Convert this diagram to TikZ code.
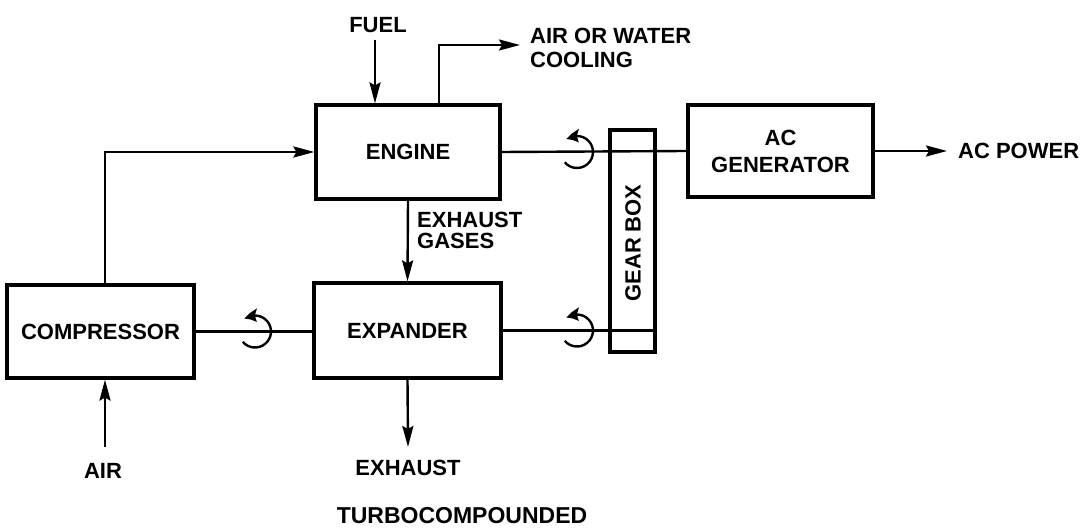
\documentclass[tikz,border=0pt]{standalone}
\usepackage{fontspec}
\setmainfont{Liberation Sans}
\usetikzlibrary{arrows.meta,bending}
\newcommand{\lblfont}{\fontsize{22}{23}\selectfont\bfseries}
\begin{document}
\begin{tikzpicture}[x=1pt,y=-1pt,
  blk/.style={draw, line width=3.2pt, inner sep=0pt, font=\lblfont, align=center},
  lbl/.style={inner sep=0pt, font=\lblfont},
  conn/.style={line width=2.4pt},
  arr/.style={line width=2.4pt, -{Stealth[length=21pt,width=11pt,inset=3pt]}},
  rot/.pic={\draw[line width=2.4pt,-{Stealth[length=13pt,width=13pt,inset=2pt,bend]}] (140:16) arc[start angle=140,end angle=-130,radius=16];}
]
\fill[white] (0,0) rectangle (1082,529);
\useasboundingbox (0,0) rectangle (1082,529);

% blocks
\node[blk, minimum width=187pt, minimum height=93pt] (comp) at (100.5,331.5) {COMPRESSOR};
\node[blk, minimum width=184pt, minimum height=94pt] (eng) at (408,152) {ENGINE};
\node[blk, minimum width=187pt, minimum height=95pt] (exp) at (407.5,330.5) {EXPANDER};
\node[blk, minimum width=185pt, minimum height=92pt, font=\fontsize{22}{27}\selectfont\bfseries] (gen) at (780.5,151) {AC\\GENERATOR};
\node[blk, line width=3.4pt, minimum width=45pt, minimum height=222pt] (gear) at (632.5,241) {};
\node[lbl, rotate=90] (geartxt) at (633,243) {GEAR BOX};

% labels
\node[lbl] (fuel) at (378,25) {FUEL};
\node[lbl, anchor=north west, align=left, font=\fontsize{22}{24}\selectfont\bfseries] (cool) at (530,28) {AIR OR WATER\\COOLING};
\node[lbl, anchor=north west, align=left, font=\fontsize{22}{21}\selectfont\bfseries] (gases) at (417,212) {EXHAUST\\GASES};
\node[lbl, anchor=west] (acp) at (958,151) {AC POWER};
\node[lbl] (exh) at (408,468) {EXHAUST};
\node[lbl] (air) at (103,471) {AIR};
\node[lbl, font=\fontsize{23}{24}\selectfont\bfseries] (title) at (462,516) {TURBOCOMPOUNDED};

% free ends
\coordinate (airin) at (105,447);
\coordinate (fuelin) at (375,40);
\coordinate (coolx) at (439,105);
\coordinate (coolout) at (520,45);
\coordinate (exhout) at (408,447);
\coordinate (powout) at (947,151);

% connectors
\draw[arr] (airin) -- (airin |- comp.south);
\draw[arr] (airin |- comp.north) |- (eng.west);
\draw[conn] (comp.east) -- (comp.east -| exp.west);
\draw[arr] (fuelin) -- (fuelin |- eng.north);
\draw[arr] (coolx |- eng.north) |- (coolout);
\draw[arr] (eng.south) -- (exp.north);
\draw[arr] (exp.south) -- (exhout);
\draw[conn] (eng.east) -- (gen.west);
\draw[conn] (exp.east) -- (exp.east -| gear.east);
\draw[arr] (gen.east) -- (powout);

% rotation symbols
\pic at (255,331.5) {rot};
\pic at (577,152) {rot};
\pic at (577,330.5) {rot};
\end{tikzpicture}
\end{document}
